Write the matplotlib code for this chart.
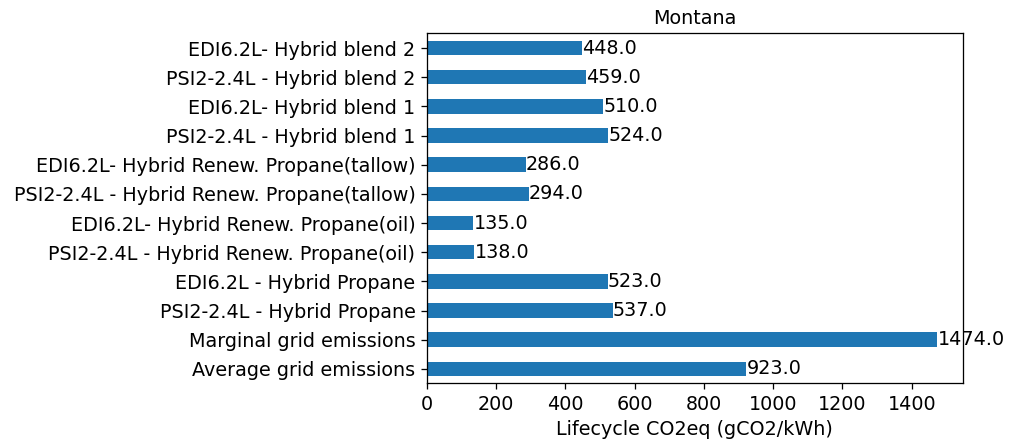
import matplotlib
matplotlib.use("Agg")
import matplotlib.pyplot as plt

categories = [
    "Average grid emissions",
    "Marginal grid emissions",
    "PSI2-2.4L - Hybrid Propane",
    "EDI6.2L - Hybrid Propane",
    "PSI2-2.4L - Hybrid Renew. Propane(oil)",
    "EDI6.2L- Hybrid Renew. Propane(oil)",
    "PSI2-2.4L - Hybrid Renew. Propane(tallow)",
    "EDI6.2L- Hybrid Renew. Propane(tallow)",
    "PSI2-2.4L - Hybrid blend 1",
    "EDI6.2L- Hybrid blend 1",
    "PSI2-2.4L - Hybrid blend 2",
    "EDI6.2L- Hybrid blend 2",
]
values = [923.0, 1474.0, 537.0, 523.0, 138.0, 135.0, 294.0, 286.0, 524.0, 510.0, 459.0, 448.0]

plt.rcParams["font.size"] = 12
DPI = 115

fig, ax = plt.subplots(figsize=(1013 / DPI, 440 / DPI), dpi=DPI)
pos = range(len(categories))
bars = ax.barh(pos, values, height=0.5, color="#1f77b4")
ax.set_yticks(list(pos))
ax.set_yticklabels(categories)
ax.bar_label(bars, fmt="%.1f")
ax.set_xlim(0, max(values) * 1.05)
ax.set_ylim(-0.5, len(categories) - 0.5)
ax.set_title("Montana", fontsize=12)
ax.set_xlabel("Lifecycle CO2eq (gCO2/kWh)")

fig.subplots_adjust(left=0.4212, right=0.9506, top=0.924, bottom=0.1285)
fig.savefig("out.png", dpi=DPI)
plt.close(fig)
